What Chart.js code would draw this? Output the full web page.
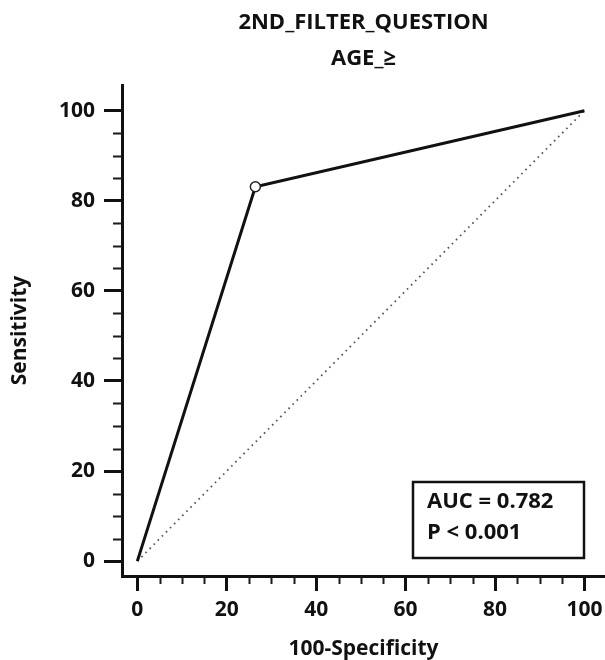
<!DOCTYPE html>
<html>
<head>
<meta charset="utf-8">
<script src="https://cdn.jsdelivr.net/npm/chart.js@4/dist/chart.umd.min.js"></script>
<style>
  html, body { margin: 0; padding: 0; background: #fff; }
  #wrap { width: 605px; height: 660px; }
</style>
</head>
<body>
<div id="wrap"><canvas id="roc" width="605" height="660"></canvas></div>
<script>
// data
const titleLines = ['2ND_FILTER_QUESTION', 'AGE_\u2265'];
const fprValues = [0, 26.4, 100];      // 100-Specificity
const sensValues = [0, 83.1, 100];     // Sensitivity
const markerRadius = [0, 5, 0];        // cut-off point marked with a circle
const diagX = [0, 100];
const diagY = [0, 100];
const majorTicks = [0, 20, 40, 60, 80, 100];
const minorTicks = [5, 10, 15, 25, 30, 35, 45, 50, 55, 65, 70, 75, 85, 90, 95];
const boxLines = ['AUC = 0.782', 'P < 0.001'];

const FONT = "'Open Sans', 'DejaVu Sans', sans-serif";

// minor ticks + AUC box
const extras = {
  id: 'extras',
  afterDraw(chart) {
    const ctx = chart.ctx;
    const xs = chart.scales.x, ys = chart.scales.y;
    const area = chart.chartArea;
    ctx.save();
    ctx.strokeStyle = '#1a1a1a';
    ctx.lineWidth = 2;
    minorTicks.forEach(v => {
      const px = Math.round(xs.getPixelForValue(v)) + 0.5;
      ctx.beginPath();
      ctx.moveTo(px, area.bottom);
      ctx.lineTo(px, area.bottom + 8);
      ctx.stroke();
      const py = Math.round(ys.getPixelForValue(v)) + 0.5;
      ctx.beginPath();
      ctx.moveTo(area.left, py);
      ctx.lineTo(area.left - 9, py);
      ctx.stroke();
    });

    // AUC box in the lower right corner
    const bw = 171, bh = 76;
    const bx = area.right - 21 - bw;
    const by = area.bottom - 18 - bh;
    ctx.fillStyle = '#fff';
    ctx.fillRect(bx, by, bw, bh);
    ctx.lineWidth = 2.5;
    ctx.strokeStyle = '#111';
    ctx.strokeRect(bx, by, bw, bh);
    ctx.fillStyle = '#111';
    ctx.font = 'bold 22px ' + FONT;
    ctx.textBaseline = 'middle';
    ctx.textAlign = 'left';
    boxLines.forEach((t, i) => ctx.fillText(t, bx + 14, by + 20 + i * 31));
    ctx.restore();
  }
};

Chart.defaults.font.family = FONT;
Chart.defaults.color = '#111';

new Chart(document.getElementById('roc').getContext('2d'), {
  type: 'scatter',
  data: {
    datasets: [{
      data: fprValues.map((x, i) => ({ x: x, y: sensValues[i] })),
      showLine: true,
      borderColor: '#111',
      borderWidth: 3,
      pointRadius: markerRadius,
      pointBackgroundColor: '#fff',
      pointBorderColor: '#222',
      pointBorderWidth: 1.5,
      pointHoverRadius: 0
    }, {
      data: diagX.map((x, i) => ({ x: x, y: diagY[i] })),
      showLine: true,
      borderColor: '#555',
      borderWidth: 1.8,
      borderDash: [1.6, 4.2],
      pointRadius: 0
    }]
  },
  options: {
    responsive: false,
    animation: false,
    layout: { padding: 0 },
    plugins: {
      legend: { display: false },
      tooltip: { enabled: false },
      title: {
        display: true,
        text: titleLines,
        fullSize: false,
        color: '#111',
        font: { size: 22, weight: 'bold', lineHeight: '36px' },
        padding: { top: 5, bottom: 8 }
      }
    },
    scales: {
      x: {
        type: 'linear',
        min: -3.43,
        max: 104.6,
        afterBuildTicks: s => { s.ticks = majorTicks.map(v => ({ value: v })); },
        afterFit: s => { s.height = 84; s.paddingLeft = 0; s.paddingRight = 0; },
        border: { display: true, color: '#111', width: 3 },
        grid: { drawOnChartArea: false, drawTicks: true, tickLength: 15, tickWidth: 3, color: '#111' },
        ticks: { padding: 6, maxRotation: 0, font: { size: 21, weight: 'bold' }, color: '#111' },
        title: {
          display: true,
          text: '100-Specificity',
          color: '#111',
          font: { size: 21, weight: 'bold', lineHeight: '22px' },
          padding: { top: 0, bottom: 0 }
        }
      },
      y: {
        type: 'linear',
        min: -3.3,
        max: 105.7,
        afterBuildTicks: s => { s.ticks = majorTicks.map(v => ({ value: v })); },
        afterFit: s => { s.width = 122; s.paddingTop = 0; s.paddingBottom = 0; },
        border: { display: true, color: '#111', width: 3 },
        grid: { drawOnChartArea: false, drawTicks: true, tickLength: 18, tickWidth: 3, color: '#111' },
        ticks: { padding: 9, font: { size: 21, weight: 'bold' }, color: '#111' },
        title: {
          display: true,
          text: 'Sensitivity',
          color: '#111',
          font: { size: 21, weight: 'bold', lineHeight: '24px' },
          padding: { top: 8, bottom: 0 }
        }
      }
    }
  },
  plugins: [extras]
});
</script>
</body>
</html>
